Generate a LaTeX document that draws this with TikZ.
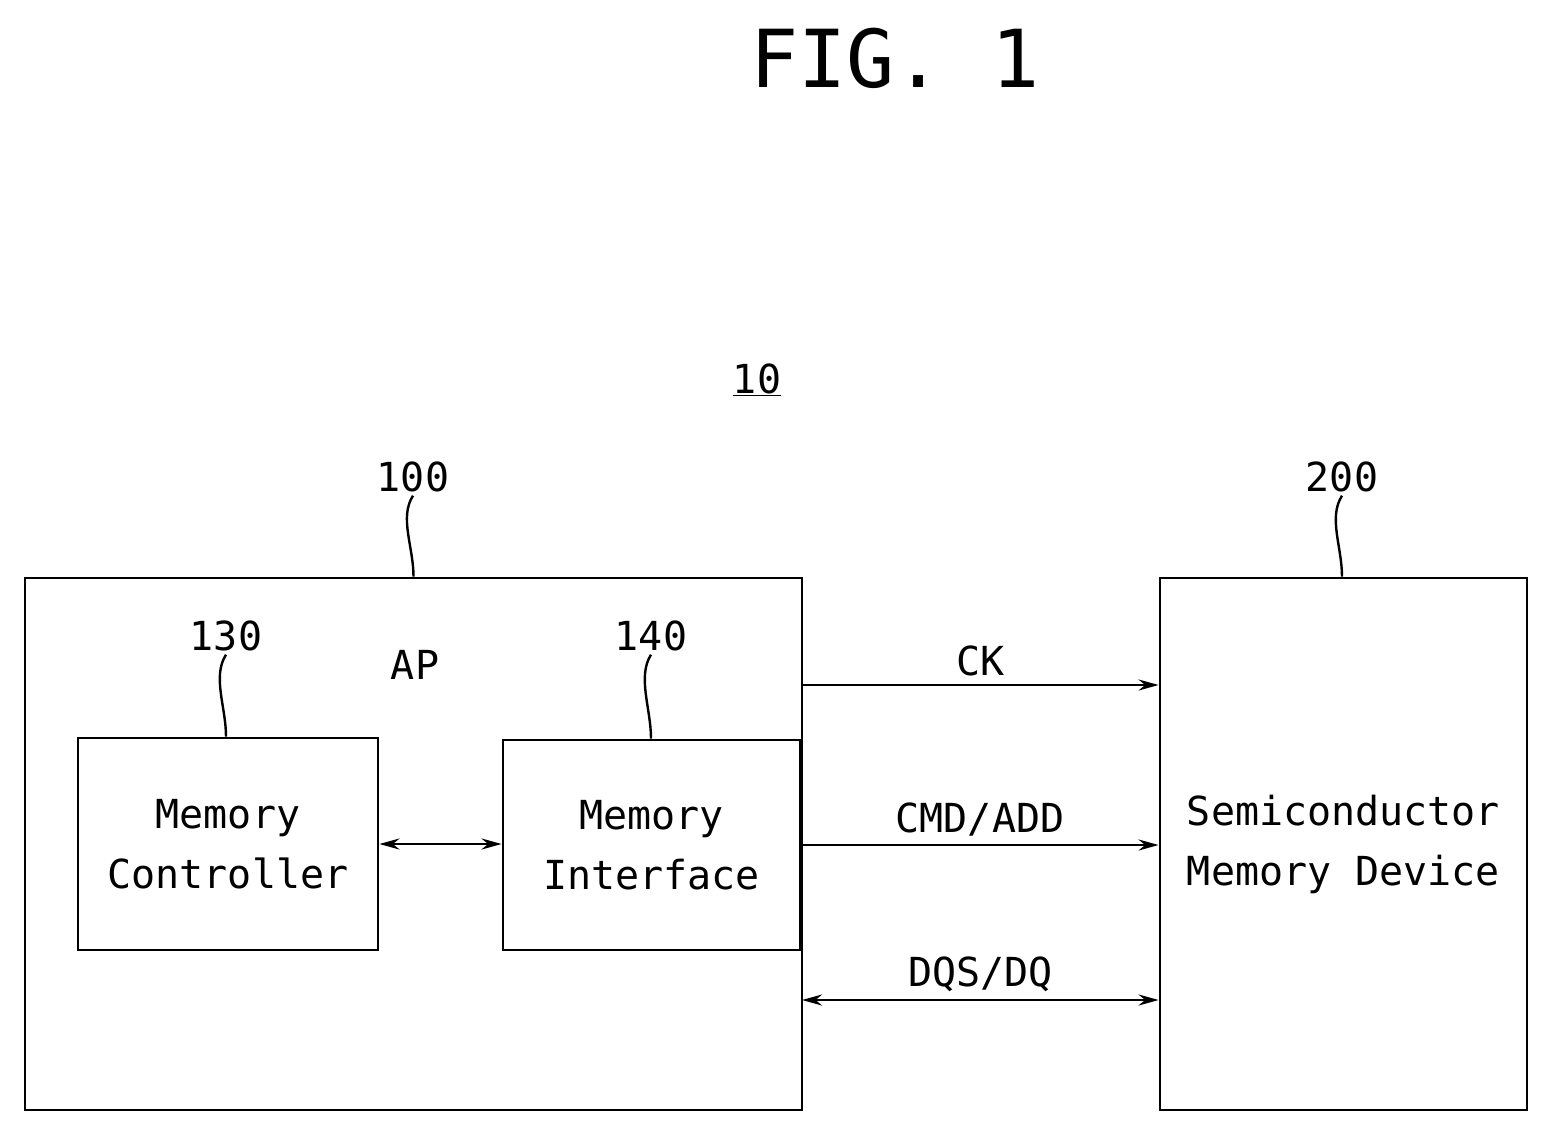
\documentclass[tikz,border=0pt]{standalone}
\usepackage{fontspec}
\setmainfont{DejaVu Sans Mono}
\usetikzlibrary{arrows.meta, positioning, calc}

\tikzset{
  blk/.style={draw, line width=2.8pt, inner sep=0pt},
  lbl/.style={font=\fontsize{40}{60}\selectfont},
  sig/.style={line width=2.8pt, -{Stealth[length=20pt,width=11pt]}},
  sig2/.style={line width=2.8pt, {Stealth[length=20pt,width=11pt]}-{Stealth[length=20pt,width=11pt]}},
  lead/.style={line width=2.4pt}
}

\begin{document}
\begin{tikzpicture}[x=1pt,y=-1pt]
\useasboundingbox (0,0) rectangle (1549,1133);

% title
\node[font=\fontsize{80}{84}\selectfont] (fig) at (895,58) {FIG. 1};
\node[lbl] (sys) at (757,380) {\underline{10}};

% blocks
\node[blk, minimum width=777pt, minimum height=532pt] (ap) at (413.5,844) {};
\node[blk, minimum width=300pt, minimum height=212pt, align=center, lbl] (mc) at (228,844) {Memory\\Controller};
\node[blk, minimum width=297pt, minimum height=210pt, align=center, lbl] (mi) at (651.5,845) {Memory\\Interface};
\node[blk, minimum width=367pt, minimum height=532pt, align=center, lbl] (smd) at (1343.5,844) {Semiconductor\\Memory Device};
\node[lbl] (aplbl) at (415,665) {AP};

% reference numerals
\node[lbl] (n100) at (413,477) {100};
\node[lbl] (n200) at (1342,477) {200};
\node[lbl] (n130) at (226,636) {130};
\node[lbl] (n140) at (651,636) {140};

\draw[lead] (n100.south) .. controls ++(-14,22) and ++(0,-30) .. (ap.north);
\draw[lead] (n200.south) .. controls ++(-14,22) and ++(0,-30) .. (smd.north -| n200);
\draw[lead] (n130.south) .. controls ++(-14,22) and ++(0,-30) .. (mc.north -| n130);
\draw[lead] (n140.south) .. controls ++(-14,22) and ++(0,-30) .. (mi.north -| n140);

% signals
\coordinate (ck0) at (802,685);
\coordinate (dq0) at (802,1000);
\draw[sig] (ck0) -- (ck0 -| smd.west) node[midway, above=4pt, lbl] (cklbl) {CK};
\draw[sig] (mi.east) -- (mi.east -| smd.west) node[midway, above=4pt, lbl] (cmdlbl) {CMD/ADD};
\draw[sig2] (dq0) -- (dq0 -| smd.west) node[midway, above=4pt, lbl] (dqlbl) {DQS/DQ};
\draw[sig2] (mc.east) -- (mc.east -| mi.west);
\end{tikzpicture}
\end{document}
